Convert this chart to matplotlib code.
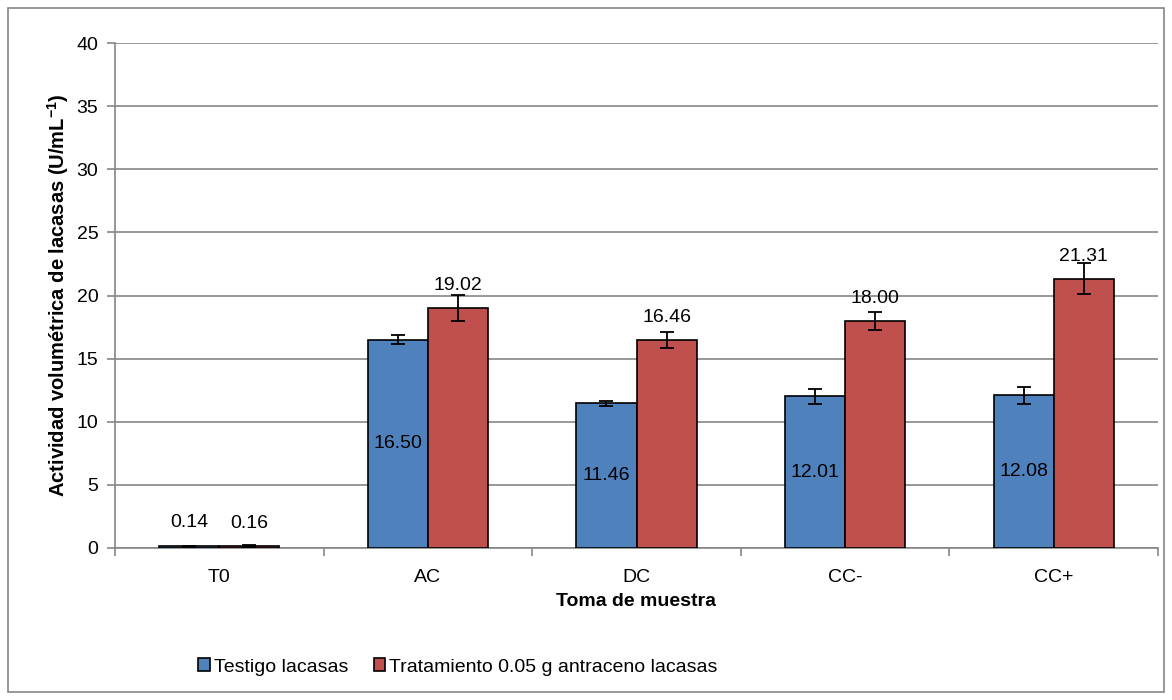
import matplotlib
matplotlib.use("Agg")
import matplotlib.pyplot as plt
import numpy as np
from matplotlib.patches import Rectangle

plt.rcParams['font.family'] = ['Liberation Sans', 'DejaVu Sans']
plt.rcParams['mathtext.fontset'] = 'custom'
plt.rcParams['mathtext.rm'] = 'Liberation Sans'
plt.rcParams['mathtext.bf'] = 'Liberation Sans:bold'

categories = ["T0", "AC", "DC", "CC-", "CC+"]
testigo = [0.14, 16.50, 11.46, 12.01, 12.08]
testigo_err = [0.03, 0.35, 0.2, 0.6, 0.65]
tratamiento = [0.16, 19.02, 16.46, 18.00, 21.31]
tratamiento_err = [0.05, 1.03, 0.65, 0.7, 1.23]
series_names = ["Testigo lacasas", "Tratamiento 0.05 g antraceno lacasas"]
blue = "#4F81BD"
red = "#C0504D"
grid_c = "#868686"
fs = 14

fig = plt.figure(figsize=(11.72, 7.0), dpi=100)
fig.patches.append(Rectangle((8/1172, 8/700), 1156/1172, 684/700, transform=fig.transFigure,
                             fill=False, edgecolor="#868686", linewidth=1.2))
ax = fig.add_axes([115/1172, 152/700, 1043/1172, 505/700])

x = np.arange(len(categories))
w = 0.288
ekw = dict(ecolor="black", elinewidth=1.3, capsize=5, capthick=1.3)
b1 = ax.bar(x - w/2, testigo, w, color=blue, edgecolor="black", linewidth=1.2,
            yerr=testigo_err, error_kw=ekw, label=series_names[0], zorder=3)
b2 = ax.bar(x + w/2, tratamiento, w, color=red, edgecolor="black", linewidth=1.2,
            yerr=tratamiento_err, error_kw=ekw, label=series_names[1], zorder=3)

for xi, v in zip(x, testigo):
    if v > 2:
        ax.text(xi - w/2, v/2, f"{v:.2f}", ha="center", va="center", fontsize=fs, zorder=5)
    else:
        ax.text(xi - w/2, v + 1.2, f"{v:.2f}", ha="center", va="bottom", fontsize=fs, zorder=5)
for xi, v in zip(x, tratamiento):
    ax.text(xi + w/2, v + 1.1, f"{v:.2f}", ha="center", va="bottom", fontsize=fs, zorder=5)

ax.set_xlim(-0.5, len(categories) - 0.5)
ax.set_ylim(0, 40)
ax.set_yticks(np.arange(0, 41, 5))
ax.yaxis.grid(True, color=grid_c, linewidth=1.2, zorder=0)
ax.set_axisbelow(True)
ax.set_xticks(x)
ax.set_xticklabels(categories, fontsize=fs)
ax.set_xticks(np.arange(-0.5, len(categories), 1), minor=True)
ax.tick_params(axis="x", which="major", length=0, pad=15)
ax.tick_params(axis="x", which="minor", length=6, color=grid_c, width=1.2)
ax.tick_params(axis="y", length=6, color=grid_c, width=1.2, labelsize=fs, pad=6)
for s in ["top", "right"]:
    ax.spines[s].set_visible(False)
for s in ["left", "bottom"]:
    ax.spines[s].set_color(grid_c)
    ax.spines[s].set_linewidth(1.2)

ax.set_xlabel("Toma de muestra", fontsize=fs, fontweight="bold", labelpad=5)
ax.set_ylabel("Actividad volumétrica de lacasas (U/mL$^{\\mathbf{-1}}$)", fontsize=14.5,
              fontweight="bold", labelpad=4)

leg = fig.legend(handles=[b1.patches[0], b2.patches[0]], labels=series_names,
                 loc="center", bbox_to_anchor=(458/1172, 1 - 667/700), ncol=2,
                 frameon=False, fontsize=fs, handlelength=0.6, handleheight=0.6,
                 handletextpad=0.2, columnspacing=1.3)

fig.savefig("out.png", dpi=100)
